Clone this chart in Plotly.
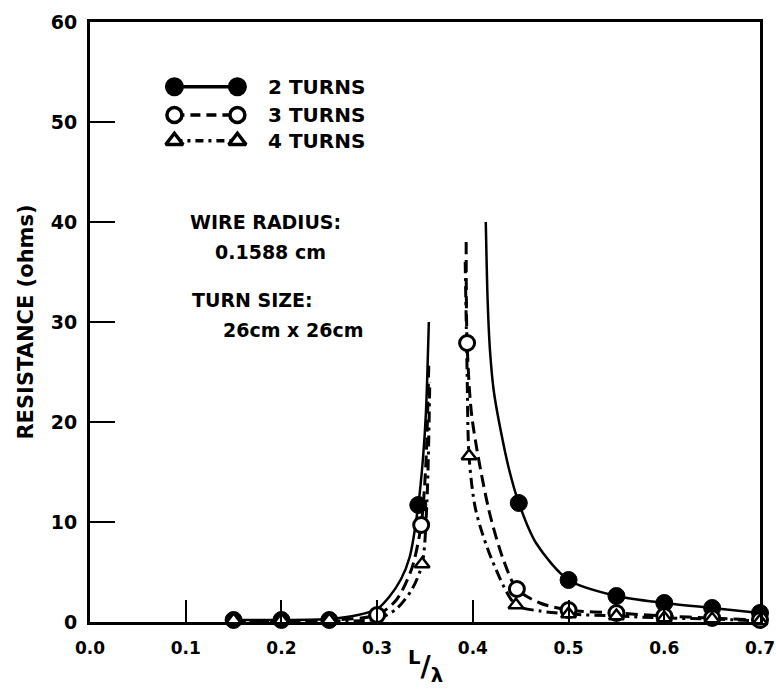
import plotly.graph_objects as go

# Measured points (L/lambda, resistance in ohms)
two_x = [0.15, 0.20, 0.25, 0.343, 0.448, 0.50, 0.55, 0.60, 0.65, 0.70]
two_y = [0.2, 0.2, 0.2, 11.7, 11.9, 4.2, 2.6, 1.9, 1.4, 0.9]

three_x = [0.30, 0.346, 0.394, 0.446, 0.50, 0.55, 0.60, 0.65, 0.70]
three_y = [0.7, 9.7, 27.9, 3.3, 1.2, 0.9, 0.6, 0.4, 0.2]

four_x = [0.15, 0.20, 0.25, 0.347, 0.396, 0.445, 0.50, 0.55, 0.60, 0.65, 0.70]
four_y = [0.2, 0.2, 0.2, 5.8, 16.6, 1.7, 0.8, 0.6, 0.4, 0.3, 0.1]

# Traced curve points; None separates the two resonance branches
two_cx = [0.15, 0.20, 0.25, 0.28, 0.30, 0.3125, 0.325, 0.334, 0.343, 0.348, 0.351, 0.354,
          None, 0.4135, 0.4155, 0.418, 0.422, 0.429, 0.438, 0.448, 0.466, 0.50, 0.55, 0.60, 0.65, 0.70]
two_cy = [0.2, 0.2, 0.3, 0.7, 1.3, 2.5, 4.3, 6.5, 11.7, 16.5, 21.0, 30.0,
          None, 40.0, 32.0, 27.0, 23.0, 19.2, 15.2, 11.9, 7.9, 4.2, 2.6, 1.9, 1.4, 0.9]

three_cx = [0.15, 0.20, 0.25, 0.30, 0.32, 0.336, 0.346, 0.351, 0.354,
            None, 0.393, 0.394, 0.399, 0.4167, 0.432, 0.446, 0.47, 0.50, 0.55, 0.60, 0.65, 0.70]
three_cy = [0.1, 0.1, 0.2, 0.7, 2.2, 5.3, 9.7, 16.0, 26.0,
            None, 38.0, 27.9, 20.5, 11.2, 6.2, 3.3, 1.9, 1.2, 0.9, 0.6, 0.4, 0.2]

four_cx = [0.15, 0.20, 0.25, 0.30, 0.32, 0.336, 0.347, 0.352, 0.355,
           None, 0.392, 0.394, 0.396, 0.403, 0.420, 0.445, 0.47, 0.50, 0.55, 0.60, 0.65, 0.70]
four_cy = [0.1, 0.1, 0.1, 0.3, 1.3, 3.2, 5.8, 12.0, 24.0,
           None, 36.0, 25.0, 16.6, 11.2, 6.2, 1.7, 1.1, 0.8, 0.6, 0.4, 0.3, 0.1]

x_ticks = [0.0, 0.1, 0.2, 0.3, 0.4, 0.5, 0.6, 0.7]
x_tick_text = ["0.0", "0.1", "0.2", "0.3", "0.4", "0.5", "0.6", "0.7"]
y_ticks = [0, 10, 20, 30, 40, 50, 60]

series_names = ["2 TURNS", "3 TURNS", "4 TURNS"]

FONT = "DejaVu Sans"
INK = "black"


def bold(size):
    return dict(family=FONT, size=size, color=INK, weight="bold")


fig = go.Figure()

# curves
curve_style = dict(shape="spline", smoothing=0.8, color=INK)
fig.add_trace(go.Scatter(x=two_cx, y=two_cy, mode="lines", connectgaps=False,
                         line=dict(width=2.5, **curve_style),
                         hoverinfo="skip", showlegend=False, cliponaxis=False))
fig.add_trace(go.Scatter(x=three_cx, y=three_cy, mode="lines", connectgaps=False,
                         line=dict(width=3, dash="12px,6px", **curve_style),
                         hoverinfo="skip", showlegend=False, cliponaxis=False))
fig.add_trace(go.Scatter(x=four_cx, y=four_cy, mode="lines", connectgaps=False,
                         line=dict(width=3, dash="11px,5px,3px,5px", **curve_style),
                         hoverinfo="skip", showlegend=False, cliponaxis=False))

# markers
fig.add_trace(go.Scatter(x=two_x, y=two_y, mode="markers", name=series_names[0],
                         marker=dict(symbol="circle", size=17, color=INK, line=dict(color=INK, width=1)),
                         showlegend=False, cliponaxis=False))
fig.add_trace(go.Scatter(x=three_x, y=three_y, mode="markers", name=series_names[1],
                         marker=dict(symbol="circle", size=15, color="white", line=dict(color=INK, width=3)),
                         showlegend=False, cliponaxis=False))
fig.add_trace(go.Scatter(x=four_x, y=four_y, mode="markers", name=series_names[2],
                         marker=dict(symbol="triangle-up", size=13, color="white", line=dict(color=INK, width=2.5)),
                         showlegend=False, cliponaxis=False))

# legend key drawn on a fixed 0..1 overlay axis
key_rows = [0.892, 0.845, 0.802]
key_x = [0.126, 0.220]
key_styles = [
    (dict(color=INK, width=3.5), dict(symbol="circle", size=19, color=INK)),
    (dict(color=INK, width=3.5, dash="10px,6px"),
     dict(symbol="circle", size=15, color="white", line=dict(color=INK, width=3.5))),
    (dict(color=INK, width=3.5, dash="8px,5px,3px,5px"),
     dict(symbol="triangle-up", size=15, color="white", line=dict(color=INK, width=3.5))),
]
for row_y, (ln, mk), label in zip(key_rows, key_styles, series_names):
    fig.add_trace(go.Scatter(x=key_x, y=[row_y, row_y], mode="lines+markers",
                             line=ln, marker=mk, xaxis="x2", yaxis="y2",
                             hoverinfo="skip", showlegend=False, cliponaxis=False))
    fig.add_annotation(x=0.262, y=row_y, xref="paper", yref="paper", text=label,
                       showarrow=False, xanchor="left", yanchor="middle",
                       font=bold(20))

notes = [
    ("WIRE RADIUS:", 0.146, 0.667),
    ("0.1588 cm", 0.183, 0.617),
    ("TURN SIZE:", 0.149, 0.537),
    ("26cm x 26cm", 0.196, 0.487),
]
for txt, nx, ny in notes:
    fig.add_annotation(x=nx, y=ny, xref="paper", yref="paper", text=txt,
                       showarrow=False, xanchor="left", yanchor="middle",
                       font=bold(19))

# x-axis title as a slashed fraction L/lambda
fig.add_annotation(x=0.50, y=-0.112, xref="paper", yref="paper",
                   text="<sup>L</sup>/<sub>λ</sub>", showarrow=False,
                   font=dict(family=FONT, size=28, color=INK))

fig.update_layout(
    width=776, height=700,
    margin=dict(l=90, r=16, t=22, b=78),
    paper_bgcolor="white", plot_bgcolor="white",
    font=bold(19),
    xaxis=dict(range=[0, 0.7], tickvals=x_ticks, ticktext=x_tick_text,
               ticks="inside", ticklen=22, tickwidth=2, tickcolor=INK,
               showline=True, linewidth=3, linecolor=INK, mirror=True,
               showgrid=False, zeroline=False, ticklabelstandoff=9,
               ticklabeloverflow="allow", automargin=False,
               tickfont=bold(17)),
    yaxis=dict(range=[0, 60], tickvals=y_ticks,
               ticks="inside", ticklen=25, tickwidth=2, tickcolor=INK,
               showline=True, linewidth=3, linecolor=INK, mirror=True,
               showgrid=False, zeroline=False, ticklabelstandoff=6,
               automargin=False, tickfont=bold(19),
               title=dict(text="RESISTANCE (ohms)", standoff=12, font=bold(21))),
    xaxis2=dict(range=[0, 1], overlaying="x", visible=False, domain=[0, 1]),
    yaxis2=dict(range=[0, 1], overlaying="y", visible=False, domain=[0, 1]),
)

fig.write_html("out.html")
